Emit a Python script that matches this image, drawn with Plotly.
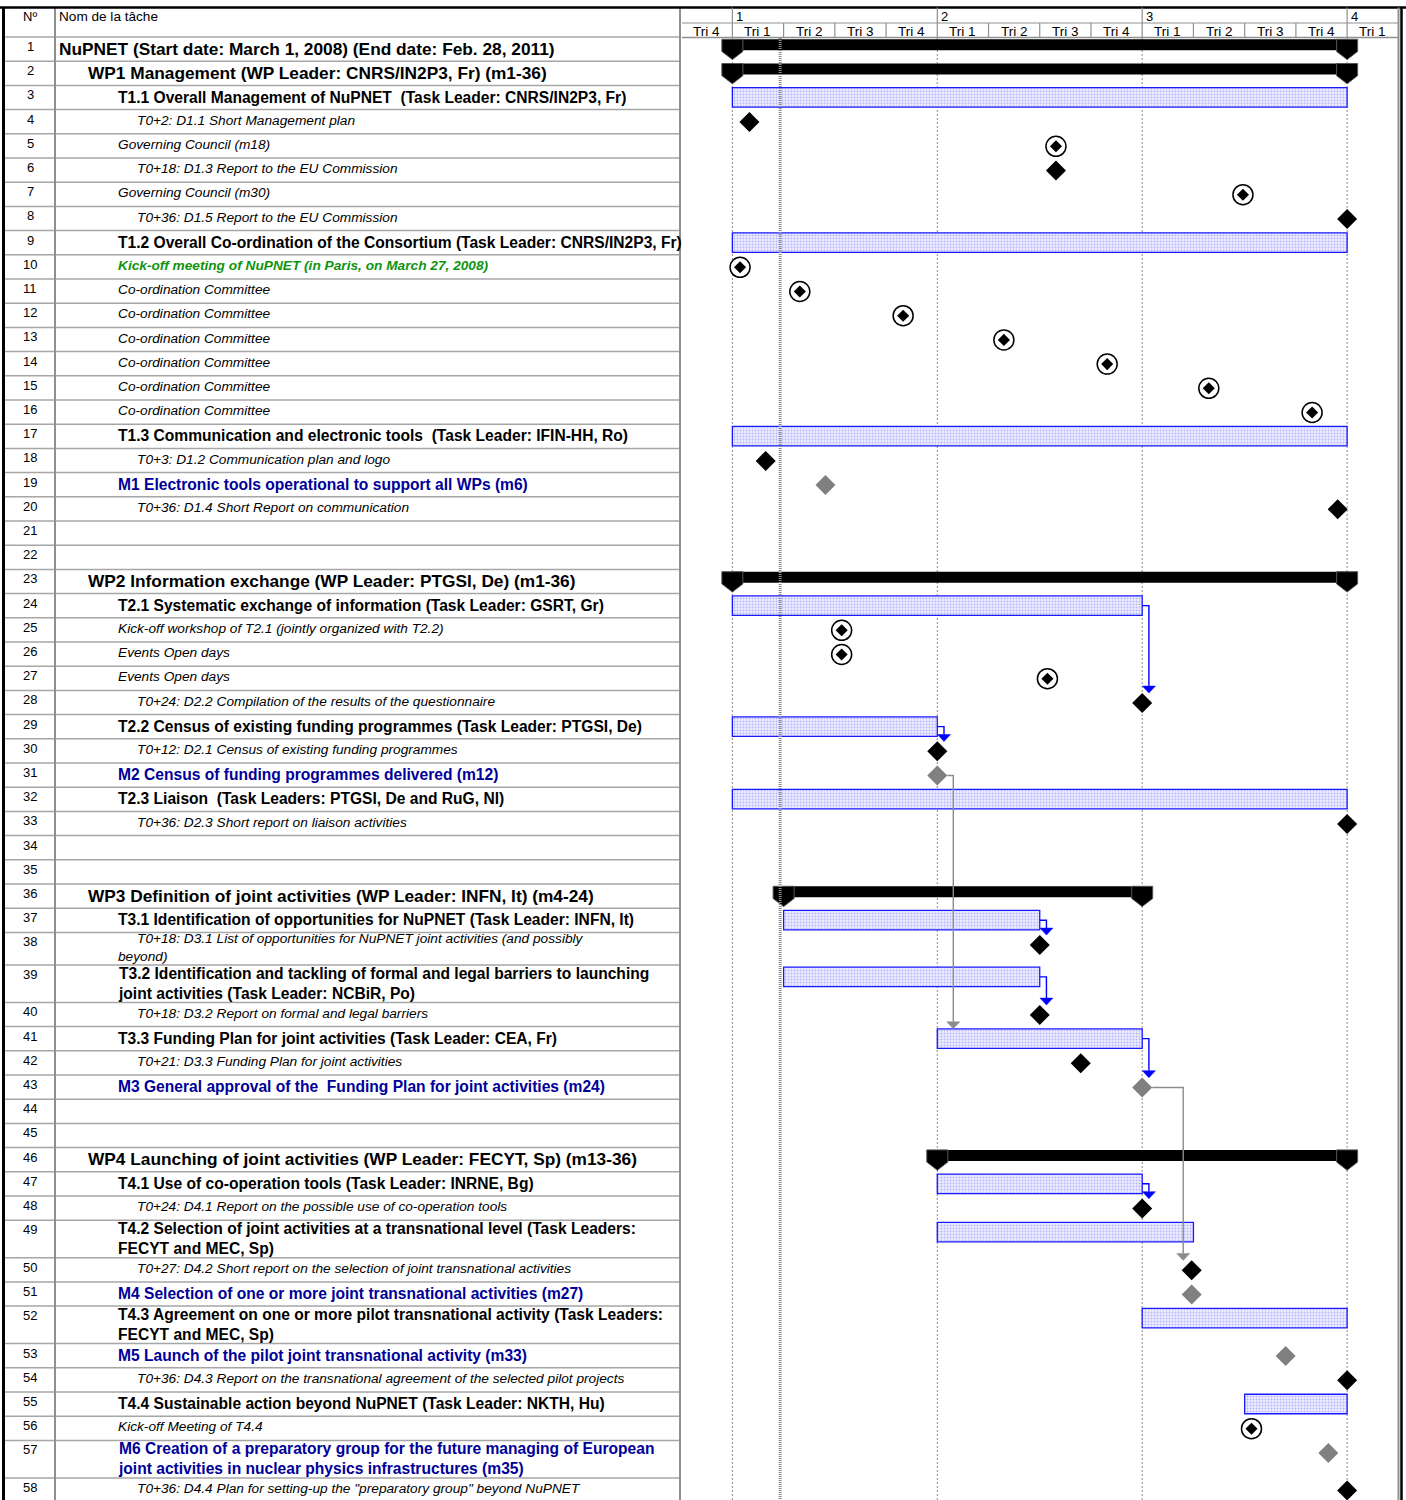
import plotly.graph_objects as go

# ---------------- data ----------------
row_labels = [
    "NuPNET (Start date: March 1, 2008) (End date: Feb. 28, 2011)",
    "WP1 Management (WP Leader: CNRS/IN2P3, Fr) (m1-36)",
    "T1.1 Overall Management of NuPNET  (Task Leader: CNRS/IN2P3, Fr)",
    "T0+2: D1.1 Short Management plan",
    "Governing Council (m18)",
    "T0+18: D1.3 Report to the EU Commission",
    "Governing Council (m30)",
    "T0+36: D1.5 Report to the EU Commission",
    "T1.2 Overall Co-ordination of the Consortium (Task Leader: CNRS/IN2P3, Fr)",
    "Kick-off meeting of NuPNET (in Paris, on March 27, 2008)",
    "Co-ordination Committee",
    "Co-ordination Committee",
    "Co-ordination Committee",
    "Co-ordination Committee",
    "Co-ordination Committee",
    "Co-ordination Committee",
    "T1.3 Communication and electronic tools  (Task Leader: IFIN-HH, Ro)",
    "T0+3: D1.2 Communication plan and logo",
    "M1 Electronic tools operational to support all WPs (m6)",
    "T0+36: D1.4 Short Report on communication",
    "",
    "",
    "WP2 Information exchange (WP Leader: PTGSI, De) (m1-36)",
    "T2.1 Systematic exchange of information (Task Leader: GSRT, Gr)",
    "Kick-off workshop of T2.1 (jointly organized with T2.2)",
    "Events Open days",
    "Events Open days",
    "T0+24: D2.2 Compilation of the results of the questionnaire",
    "T2.2 Census of existing funding programmes (Task Leader: PTGSI, De)",
    "T0+12: D2.1 Census of existing funding programmes",
    "M2 Census of funding programmes delivered (m12)",
    "T2.3 Liaison  (Task Leaders: PTGSI, De and RuG, Nl)",
    "T0+36: D2.3 Short report on liaison activities",
    "",
    "",
    "WP3 Definition of joint activities (WP Leader: INFN, It) (m4-24)",
    "T3.1 Identification of opportunities for NuPNET (Task Leader: INFN, It)",
    "T0+18: D3.1 List of opportunities for NuPNET joint activities (and possibly<br>beyond)",
    "T3.2 Identification and tackling of formal and legal barriers to launching<br>joint activities (Task Leader: NCBiR, Po)",
    "T0+18: D3.2 Report on formal and legal barriers",
    "T3.3 Funding Plan for joint activities (Task Leader: CEA, Fr)",
    "T0+21: D3.3 Funding Plan for joint activities",
    "M3 General approval of the  Funding Plan for joint activities (m24)",
    "",
    "",
    "WP4 Launching of joint activities (WP Leader: FECYT, Sp) (m13-36)",
    "T4.1 Use of co-operation tools (Task Leader: INRNE, Bg)",
    "T0+24: D4.1 Report on the possible use of co-operation tools",
    "T4.2 Selection of joint activities at a transnational level (Task Leaders:<br>FECYT and MEC, Sp)",
    "T0+27: D4.2 Short report on the selection of joint transnational activities",
    "M4 Selection of one or more joint transnational activities (m27)",
    "T4.3 Agreement on one or more pilot transnational activity (Task Leaders:<br>FECYT and MEC, Sp)",
    "M5 Launch of the pilot joint transnational activity (m33)",
    "T0+36: D4.3 Report on the transnational agreement of the selected pilot projects",
    "T4.4 Sustainable action beyond NuPNET (Task Leader: NKTH, Hu)",
    "Kick-off Meeting of T4.4",
    "M6 Creation of a preparatory group for the future managing of European<br>joint activities in nuclear physics infrastructures (m35)",
    'T0+36: D4.4 Plan for setting-up the "preparatory group" beyond NuPNET',
]
# P project, W work package, T task, D deliverable, E event, K kick-off, M milestone, - blank
row_kinds = ("P W T D E D E D T K E E E E E E T D M D - - W T E E E D T D M T D - - "
             "W T D T D T D M - - W T D T D M T M D T E M D").split()

summary_rows = [1, 2, 23, 36, 46]
summary_start = [0, 0, 0, 3, 12]
summary_end = [36, 36, 36, 24, 36]

task_rows = [3, 9, 17, 24, 29, 32, 37, 39, 41, 47, 49, 52, 55]
task_start = [0, 0, 0, 0, 0, 0, 3, 3, 12, 12, 12, 24, 30]
task_end = [36, 36, 36, 24, 12, 36, 18, 18, 24, 24, 27, 36, 36]

deliv_rows = [4, 6, 8, 18, 20, 28, 30, 33, 38, 40, 42, 48, 50, 54, 58]
deliv_month = [1.0, 18.95, 36, 1.95, 35.45, 24, 12, 36, 18, 18, 20.4, 24, 26.9, 36, 36]

meeting_rows = [5, 7, 10, 11, 12, 13, 14, 15, 16, 25, 26, 27, 56]
meeting_month = [18.95, 29.9, 0.45, 3.95, 10.0, 15.9, 21.95, 27.9, 33.95, 6.4, 6.4, 18.45, 30.4]

milestone_rows = [19, 31, 43, 51, 53, 57]
milestone_month = [5.45, 12, 24, 26.9, 32.4, 34.9]

task_links = [(24, 28), (29, 30), (37, 38), (39, 40), (41, 43), (47, 48)]
milestone_links = [(31, 41), (43, 50)]

year_labels = ["1", "2", "3", "4"]
year_start = [0, 12, 24, 36]
quarter_labels = ["Tri 4", "Tri 1", "Tri 2", "Tri 3", "Tri 4", "Tri 1", "Tri 2",
                  "Tri 3", "Tri 4", "Tri 1", "Tri 2", "Tri 3", "Tri 4", "Tri 1"]
quarter_start = [-3, 0, 3, 6, 9, 12, 15, 18, 21, 24, 27, 30, 33, 36]
status_month = 2.8

# ---------------- layout geometry ----------------
W, H = 1406, 1500
GX0, GX1 = 682, 1398           # gantt area in pixels
X2R = [-2.95, 38.98]           # months
PPM = (GX1 - GX0) / (X2R[1] - X2R[0])
HEAD_TOP, HEAD_MID, HEAD_BOT = 7.5, 23, 37
FONT = "Liberation Sans, Arial, Helvetica, sans-serif"
NARROW = "Liberation Sans Narrow, Arial Narrow, Liberation Sans, Arial, sans-serif"

n_rows = len(row_labels)
tops, heights = [], []
y = HEAD_BOT
for lab, kind in zip(row_labels, row_kinds):
    nl = lab.count("<br>") + 1
    h = 24.2 if nl == 1 else (37.5 if kind in ("T", "M") else 32.5)
    tops.append(y)
    heights.append(h)
    y += h


def top(r):
    return tops[r - 1]


fig = go.Figure()
shapes = []
annots = []

# ---------------- table ----------------
style = {
    "P": dict(size=17.3, b=True, i=False, x=57, color="black"),
    "W": dict(size=17.3, b=True, i=False, x=86, color="black"),
    "T": dict(size=15.6, b=True, i=False, x=116, color="black"),
    "D": dict(size=13.7, b=False, i=True, x=116, color="black"),
    "E": dict(size=13.7, b=False, i=True, x=116, color="black"),
    "K": dict(size=13.7, b=True, i=True, x=116, color="#109410"),
    "M": dict(size=15.6, b=True, i=False, x=116, color="#000099"),
}

for k in range(n_rows):
    t, h = tops[k], heights[k]
    annots.append(dict(x=30, y=t + 9.5, xref="x", yref="y", text=str(k + 1), showarrow=False,
                       xanchor="center", yanchor="middle", font=dict(family=FONT, size=13, color="black")))
    kind = row_kinds[k]
    if kind == "-":
        continue
    st = style[kind]
    txt = row_labels[k]
    if kind == "D":
        txt = "\u00a0" * 5 + txt
    if st["i"]:
        txt = "<i>" + txt + "</i>"
    if st["b"]:
        txt = "<b>" + txt + "</b>"
    yc = t + h / 2 - (1.5 if st["i"] else 0.5)
    annots.append(dict(x=st["x"], y=yc, xref="x", yref="y", text=txt, showarrow=False,
                       xanchor="left", yanchor="middle", align="left",
                       font=dict(family=FONT, size=st["size"], color=st["color"])))

# row separators
for t in tops:
    shapes.append(dict(type="line", xref="x", yref="y", x0=5, x1=680, y0=t, y1=t,
                       line=dict(color="#a6a6a6", width=1.5), layer="above"))
# header texts
annots.append(dict(x=30, y=16, xref="x", yref="y", text="Nº", showarrow=False, xanchor="center",
                   yanchor="middle", font=dict(family=FONT, size=13, color="black")))
annots.append(dict(x=57, y=16, xref="x", yref="y", text="Nom de la tâche", showarrow=False, xanchor="left",
                   yanchor="middle", font=dict(family=FONT, size=13.6, color="black")))
# column lines
for xv in (55, 680):
    shapes.append(dict(type="line", xref="x", yref="y", x0=xv, x1=xv, y0=HEAD_TOP, y1=H,
                       line=dict(color="#909090", width=2)))
shapes.append(dict(type="line", xref="x", yref="y", x0=3.5, x1=3.5, y0=HEAD_TOP, y1=H,
                   line=dict(color="black", width=3)))
shapes.append(dict(type="line", xref="x", yref="y", x0=0, x1=W, y0=HEAD_TOP, y1=HEAD_TOP,
                   line=dict(color="black", width=2.5)))
shapes.append(dict(type="line", xref="x", yref="y", x0=1398.5, x1=1398.5, y0=HEAD_TOP, y1=H,
                   line=dict(color="#909090", width=2)))
shapes.append(dict(type="line", xref="x", yref="y", x0=1401.5, x1=1401.5, y0=HEAD_TOP, y1=H,
                   line=dict(color="black", width=2.5)))

# ---------------- gantt header ----------------
shapes.append(dict(type="line", xref="x", yref="y", x0=GX0, x1=GX1, y0=HEAD_MID, y1=HEAD_MID,
                   line=dict(color="#909090", width=1.2)))
shapes.append(dict(type="line", xref="x", yref="y", x0=GX0, x1=GX1, y0=HEAD_BOT + 0.5, y1=HEAD_BOT + 0.5,
                   line=dict(color="#909090", width=1.5)))
for ys, lab in zip(year_start, year_labels):
    shapes.append(dict(type="line", xref="x2", yref="y", x0=ys, x1=ys, y0=HEAD_TOP, y1=HEAD_MID,
                       line=dict(color="#909090", width=1.2)))
    annots.append(dict(x=ys, y=16, xref="x2", yref="y", text=lab, showarrow=False, xanchor="left",
                       xshift=2, yanchor="middle", font=dict(family=NARROW, size=13, color="black")))
for qs, lab in zip(quarter_start, quarter_labels):
    if qs > X2R[0]:
        shapes.append(dict(type="line", xref="x2", yref="y", x0=qs, x1=qs, y0=HEAD_MID, y1=HEAD_BOT,
                           line=dict(color="#909090", width=1.2)))
    annots.append(dict(x=qs + 1.5, y=31, xref="x2", yref="y", text=lab, showarrow=False, xanchor="center",
                       yanchor="middle", font=dict(family=NARROW, size=13.5, color="black")))

# gridlines (years) below marks
for ys in year_start:
    shapes.append(dict(type="line", xref="x2", yref="y", x0=ys, x1=ys, y0=HEAD_BOT + 1, y1=H,
                       line=dict(color="#8a8a8a", width=1, dash="2px,2px"), layer="below"))
# status line above marks
shapes.append(dict(type="line", xref="x2", yref="y", x0=status_month, x1=status_month, y0=HEAD_BOT + 1, y1=H,
                   line=dict(color="#8a8a8a", width=3, dash="1px,1px"), layer="above"))

# ---------------- gantt marks ----------------
# summary bars
fig.add_trace(go.Bar(orientation="h", base=summary_start,
                     x=[e - s for s, e in zip(summary_start, summary_end)],
                     y=[top(r) + 7.8 for r in summary_rows], width=11,
                     marker=dict(color="black", line=dict(width=0)),
                     xaxis="x2", yaxis="y", hoverinfo="skip", showlegend=False))
cw = 10.5 / PPM
cx, cy = [], []
for r, s, e in zip(summary_rows, summary_start, summary_end):
    t = top(r)
    for c in (s, e):
        cx += [c - cw, c + cw, c + cw, c, c - cw, c - cw, None]
        cy += [t + 2.3, t + 2.3, t + 14.5, t + 22.6, t + 14.5, t + 2.3, None]
fig.add_trace(go.Scatter(x=cx, y=cy, mode="lines", fill="toself", fillcolor="black",
                         line=dict(color="#555555", width=1), xaxis="x2", yaxis="y",
                         hoverinfo="skip", showlegend=False))

# task bars
fig.add_trace(go.Bar(orientation="h", base=task_start,
                     x=[e - s for s, e in zip(task_start, task_end)],
                     y=[top(r) + 12 for r in task_rows], width=19.5,
                     marker=dict(color="#ececff", line=dict(color="#1a1aff", width=1.3),
                                 pattern=dict(shape=".", fgcolor="#7c7cff", size=3, solidity=0.3,
                                              fillmode="overlay")),
                     xaxis="x2", yaxis="y", hoverinfo="skip", showlegend=False))


def mark_pos(r):
    if r in deliv_rows:
        return deliv_month[deliv_rows.index(r)], top(r) + 12.5, "m"
    if r in milestone_rows:
        return milestone_month[milestone_rows.index(r)], top(r) + 12.5, "m"
    i = task_rows.index(r)
    return task_start[i], top(r) + 2.25, "b"


def add_link(points, tipx, tipy, color):
    fig.add_trace(go.Scatter(x=[p[0] for p in points], y=[p[1] for p in points], mode="lines",
                             line=dict(color=color, width=1.4), xaxis="x2", yaxis="y",
                             hoverinfo="skip", showlegend=False))
    hw = 6.5 / PPM
    fig.add_trace(go.Scatter(x=[tipx - hw, tipx + hw, tipx, tipx - hw],
                             y=[tipy - 7, tipy - 7, tipy, tipy - 7], mode="lines", fill="toself",
                             fillcolor=color, line=dict(color=color, width=0.5), xaxis="x2", yaxis="y",
                             hoverinfo="skip", showlegend=False))


for s, tg in task_links:
    i = task_rows.index(s)
    xe = task_end[i]
    y0 = top(s) + 12
    mx, my, _ = mark_pos(tg)
    xl = xe + 6.7 / PPM
    tipy = my - 9.8
    add_link([(xe, y0), (xl, y0), (xl, tipy - 7)], xl, tipy, "#0000ff")

for s, tg in milestone_links:
    ms = milestone_month[milestone_rows.index(s)]
    y0 = top(s) + 12.5
    tx, ty, kind = mark_pos(tg)
    xl = max(ms + 16 / PPM, tx - 8.5 / PPM)
    tipy = ty if kind == "b" else ty - 9.8
    add_link([(ms + 10 / PPM, y0), (xl, y0), (xl, tipy - 7)], xl, tipy, "#8c8c8c")

# deliverables (black diamonds)
fig.add_trace(go.Scatter(x=deliv_month, y=[top(r) + 12.5 for r in deliv_rows], mode="markers",
                         marker=dict(symbol="diamond", size=15.4, color="black", line=dict(width=0)),
                         xaxis="x2", yaxis="y", hoverinfo="skip", showlegend=False))
# milestones (gray diamonds)
fig.add_trace(go.Scatter(x=milestone_month, y=[top(r) + 12.5 for r in milestone_rows], mode="markers",
                         marker=dict(symbol="diamond", size=15.4, color="#808080", line=dict(width=0)),
                         xaxis="x2", yaxis="y", hoverinfo="skip", showlegend=False))
# meetings (circled diamonds)
fig.add_trace(go.Scatter(x=meeting_month, y=[top(r) + 12.5 for r in meeting_rows], mode="markers",
                         marker=dict(symbol="circle", size=20, color="white", line=dict(color="black", width=1.5)),
                         xaxis="x2", yaxis="y", hoverinfo="skip", showlegend=False))
fig.add_trace(go.Scatter(x=meeting_month, y=[top(r) + 12.5 for r in meeting_rows], mode="markers",
                         marker=dict(symbol="diamond", size=9.3, color="black", line=dict(width=0)),
                         xaxis="x2", yaxis="y", hoverinfo="skip", showlegend=False))

# invisible trace to anchor the table subplot
fig.add_trace(go.Scatter(x=[0], y=[0], mode="markers", marker=dict(opacity=0), xaxis="x", yaxis="y",
                         hoverinfo="skip", showlegend=False))

fig.update_layout(
    width=W, height=H, margin=dict(l=0, r=0, t=0, b=0),
    paper_bgcolor="white", plot_bgcolor="rgba(0,0,0,0)",
    barmode="overlay", showlegend=False,
    xaxis=dict(domain=[0, 1], range=[0, W], visible=False, fixedrange=True),
    xaxis2=dict(domain=[GX0 / W, GX1 / W], range=X2R, visible=False, anchor="y", fixedrange=True),
    yaxis=dict(domain=[0, 1], range=[H, 0], visible=False, fixedrange=True),
    shapes=shapes, annotations=annots,
)

fig.write_html("out.html", config={"displayModeBar": False},
               post_script="document.body.style.margin='0px';document.body.style.padding='0px';"
                           "document.body.style.overflow='hidden';")
